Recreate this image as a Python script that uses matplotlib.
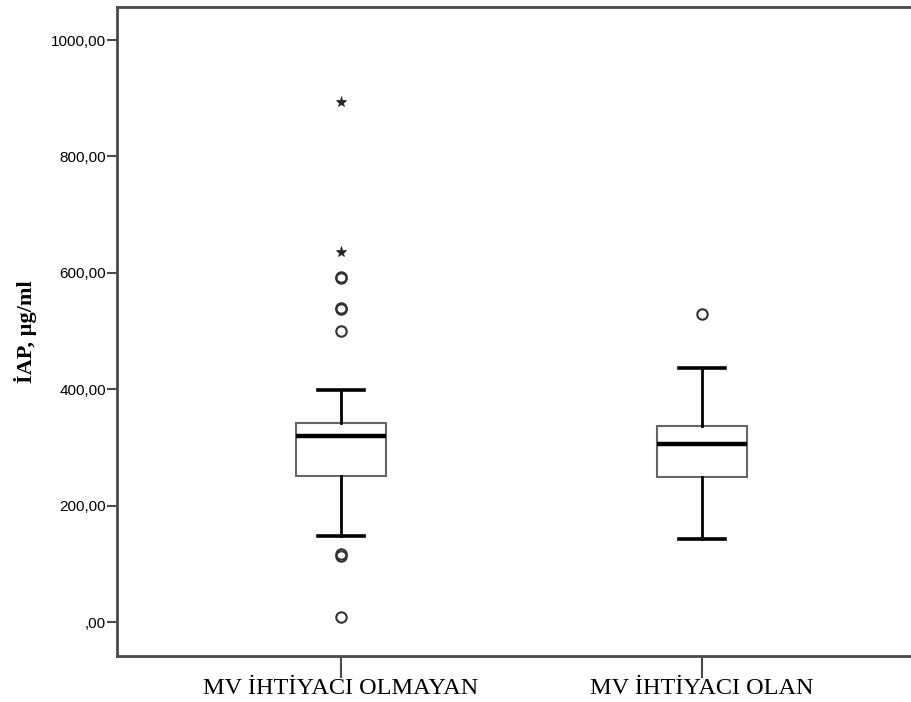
import matplotlib
matplotlib.use('Agg')
import matplotlib.pyplot as plt
from matplotlib.ticker import FuncFormatter

# ── Box statistics per group (µg/ml) ─────────────────────────────────────────
groups   = ['MV İHTİYACI OLMAYAN', 'MV İHTİYACI OLAN']
q1       = [251, 249]
median   = [320, 306]
q3       = [342, 337]
wlo      = [147, 143]
whi      = [399, 436]
outliers = [[591, 593, 538, 540, 500, 117, 113, 9],   # circles
            [529]]
extremes = [[894, 636],                                # stars
            []]

stats = [dict(med=median[i], q1=q1[i], q3=q3[i], whislo=wlo[i],
              whishi=whi[i], fliers=outliers[i], label=groups[i])
         for i in range(len(groups))]

fig = plt.figure(figsize=(9.12, 7.02), dpi=100)
ax = fig.add_axes([117 / 912, 1 - 656 / 702, 1 - 117 / 912, (656 - 7) / 702])

frame_col = '#4a4a4a'
ax.bxp(stats, positions=[1, 2], widths=0.25, showfliers=True, patch_artist=True,
       boxprops=dict(facecolor='white', edgecolor='#666666', linewidth=1.5),
       medianprops=dict(color='black', linewidth=3.2),
       whiskerprops=dict(color='black', linewidth=2.0),
       capprops=dict(color='black', linewidth=2.6),
       flierprops=dict(marker='o', markerfacecolor='none', markeredgecolor='#333333',
                       markersize=7.5, markeredgewidth=1.5, linestyle='none'))

for i, vals in enumerate(extremes):
    if vals:
        ax.plot([i + 1] * len(vals), vals, linestyle='none', marker='*',
                markersize=8, color='#222222', markeredgewidth=0.5)

ax.set_xlim(0.3795, 2.5817)
ax.set_ylim(-58.4, 1056.7)

ax.set_yticks([0, 200, 400, 600, 800, 1000])
ax.yaxis.set_major_formatter(FuncFormatter(
    lambda v, p: ',00' if v == 0 else f'{int(v)},00'))
ax.tick_params(axis='y', direction='out', length=7, width=1.5, color=frame_col,
               labelsize=11, pad=1)
ax.tick_params(axis='x', direction='out', length=16, width=1.5, color=frame_col,
               pad=0)
ax.set_xticks([1, 2])
ax.set_xticklabels(groups, family='Liberation Serif', fontsize=17.5)
for lbl in ax.get_yticklabels():
    lbl.set_family('Liberation Sans')

ax.set_ylabel('İAP, µg/ml', family='Liberation Serif', fontweight='bold',
              fontsize=16, labelpad=10)

for side in ('left', 'bottom', 'top'):
    ax.spines[side].set_color(frame_col)
    ax.spines[side].set_linewidth(2.0)
ax.spines['right'].set_visible(False)

fig.savefig('out.png', dpi=100)
